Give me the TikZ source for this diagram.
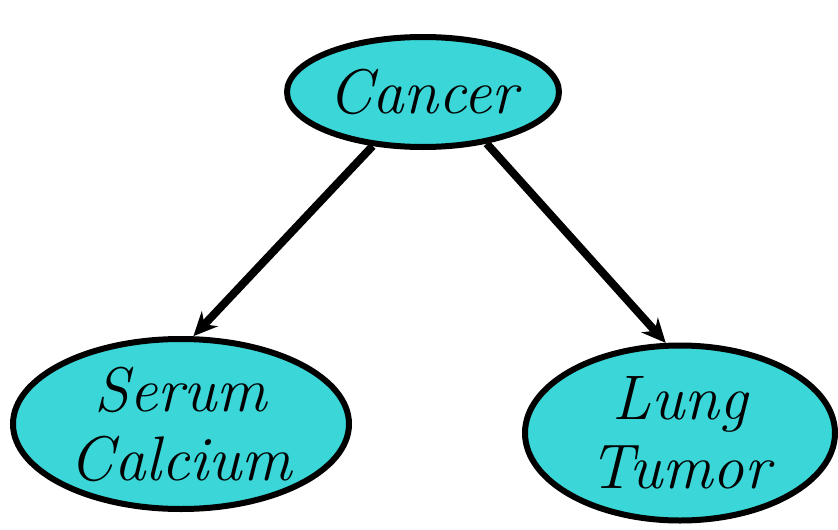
\documentclass[tikz,border=0pt]{standalone}
\usetikzlibrary{shapes.geometric,arrows.meta}
\definecolor{nodecyan}{HTML}{3AD6D8}
\tikzset{
	var/.style={ellipse, draw, line width=6pt, fill=nodecyan, inner sep=0pt, align=center,
		font=\fontsize{63}{69}\selectfont\itshape},
	causal/.style={-{Stealth[length=24pt,width=22pt]}, line width=8pt}
}
\begin{document}
\begin{tikzpicture}[x=1pt,y=1pt]
	    \useasboundingbox (0,0) rectangle (838,-530);
	    \node[var, minimum width=272pt, minimum height=110pt] (cancer) at (423,-92) {Cancer};
	    \node[var, minimum width=336pt, minimum height=170pt] (serum) at (181,-424) {Serum\\Calcium};
	    \node[var, minimum width=310pt, minimum height=175pt] (lung) at (680,-433) {Lung\\Tumor};
		
	    \draw[causal]  (cancer.-133) -- (serum.82);
	    \draw[causal]  (cancer.-39) -- (lung.99);
	\end{tikzpicture}
\end{document}
